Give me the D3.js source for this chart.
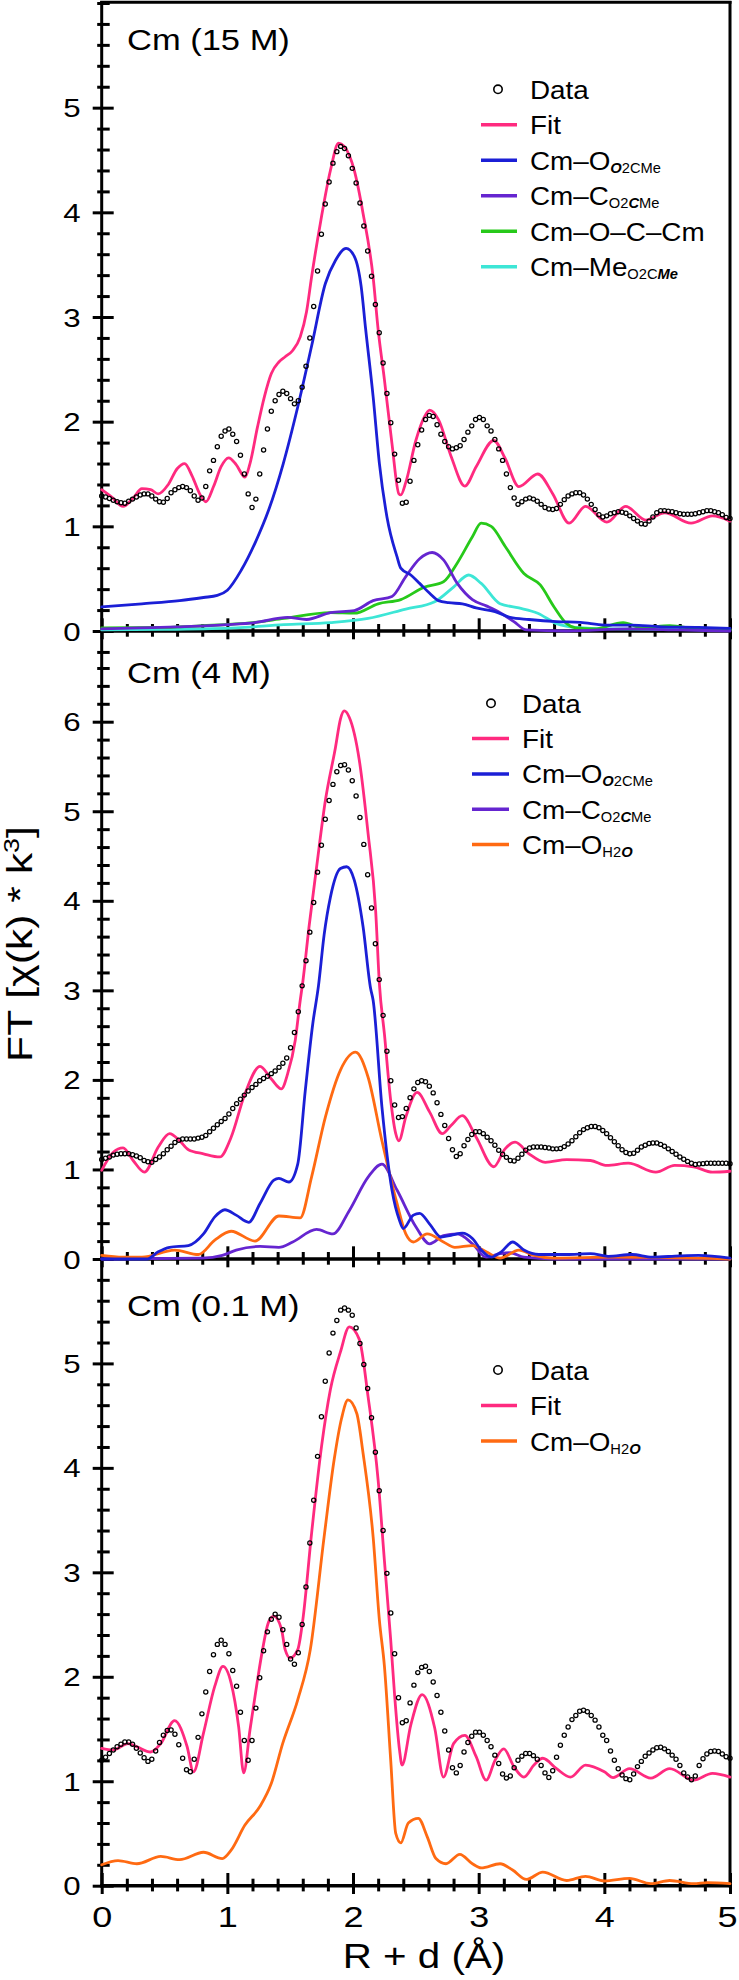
<!DOCTYPE html>
<html><head><meta charset="utf-8">
<script src="https://cdn.jsdelivr.net/npm/d3@7"></script>
<style>
body{margin:0;background:#fff}
svg{display:block}
text{font-family:"Liberation Sans",Arial,Helvetica,sans-serif;fill:#000}
</style>
</head><body>
<svg id="c" width="739" height="1980"></svg>
<script>
// ---------------- data ----------------
const xTickLabels=[0,1,2,3,4,5];
const dataStep=5/163;   // R grid of the measured points (Å)

const data1=[1.29,1.28,1.265,1.25,1.235,1.225,1.22,1.24,1.26,1.28,
1.30,1.31,1.31,1.29,1.26,1.235,1.23,1.265,1.32,1.35,
1.37,1.38,1.37,1.34,1.29,1.25,1.27,1.38,1.53,1.63,
1.76,1.86,1.91,1.93,1.88,1.81,1.68,1.50,1.31,1.18,
1.26,1.50,1.73,1.93,2.10,2.20,2.26,2.29,2.27,2.22,
2.17,2.20,2.33,2.53,2.80,3.10,3.44,3.79,4.08,4.29,
4.47,4.58,4.63,4.61,4.54,4.42,4.28,4.09,3.87,3.63,
3.39,3.12,2.85,2.56,2.27,1.99,1.69,1.44,1.22,1.23,
1.43,1.63,1.78,1.92,2.02,2.06,2.05,1.97,1.88,1.81,
1.76,1.74,1.75,1.77,1.83,1.90,1.96,2.02,2.04,2.02,
1.96,1.91,1.83,1.74,1.63,1.50,1.37,1.27,1.21,1.235,
1.26,1.27,1.26,1.24,1.21,1.18,1.165,1.16,1.17,1.21,
1.255,1.29,1.31,1.32,1.32,1.30,1.26,1.21,1.16,1.11,
1.09,1.10,1.12,1.13,1.14,1.135,1.125,1.10,1.075,1.05,
1.025,1.02,1.05,1.09,1.13,1.15,1.15,1.145,1.14,1.13,
1.12,1.115,1.115,1.115,1.12,1.13,1.14,1.15,1.15,1.14,
1.13,1.11,1.085,1.075];

const fit1R=[0,0.08,0.17,0.25,0.32,0.39,0.45,0.53,0.60,0.66,0.72,0.78,0.83,0.89,0.95,1.01,1.07,1.14,1.18,1.24,1.295,1.35,1.41,1.46,1.52,1.58,1.63,1.67,1.745,1.82,1.885,1.93,2.01,2.08,2.16,2.20,2.25,2.31,2.365,2.38,2.42,2.50,2.57,2.61,2.68,2.78,2.89,2.98,3.12,3.21,3.32,3.47,3.59,3.72,3.85,4.02,4.17,4.33,4.48,4.69,4.86,5.0];
const fit1V=[1.35,1.28,1.19,1.27,1.36,1.35,1.31,1.40,1.55,1.60,1.48,1.31,1.235,1.38,1.57,1.655,1.59,1.47,1.60,1.95,2.24,2.46,2.57,2.62,2.68,2.81,3.05,3.38,3.93,4.40,4.66,4.63,4.40,3.99,3.38,2.88,2.40,1.79,1.31,1.30,1.42,1.82,2.05,2.11,2.02,1.67,1.385,1.57,1.82,1.65,1.38,1.50,1.31,1.03,1.19,1.04,1.19,1.06,1.13,1.03,1.10,1.05];
const blue1R=[0,0.32,0.62,0.81,0.92,1.0,1.11,1.22,1.33,1.445,1.56,1.67,1.78,1.86,1.945,2.01,2.065,2.10,2.16,2.21,2.27,2.35,2.38,2.46,2.53,2.61,2.68,2.76,2.87,2.98,3.13,3.25,3.40,3.62,3.81,4.0,4.22,4.45,4.75,5.0];
const blue1V=[0.23,0.26,0.29,0.32,0.34,0.39,0.58,0.84,1.16,1.60,2.14,2.72,3.32,3.54,3.655,3.58,3.29,2.89,2.24,1.60,1.09,0.71,0.60,0.535,0.455,0.36,0.29,0.27,0.26,0.22,0.185,0.13,0.11,0.09,0.083,0.057,0.057,0.04,0.035,0.025];
const purple1R=[0,0.3,0.6,1.0,1.22,1.48,1.63,1.82,2.01,2.16,2.31,2.42,2.53,2.63,2.72,2.83,2.95,3.06,3.17,3.28,3.38,3.7,4.2,4.6,5.0];
const purple1V=[0.02,0.03,0.04,0.06,0.08,0.13,0.11,0.175,0.195,0.29,0.33,0.52,0.69,0.75,0.68,0.455,0.30,0.24,0.175,0.09,0.01,0.0,0.02,0.01,0.0];
const green1R=[0,0.5,0.8,1.2,1.45,1.82,2.01,2.2,2.38,2.57,2.72,2.83,2.95,3.02,3.10,3.21,3.36,3.49,3.60,3.70,3.77,3.92,4.15,4.30,4.52,4.75,5.0];
const green1V=[0.03,0.035,0.05,0.08,0.12,0.175,0.17,0.26,0.30,0.42,0.47,0.65,0.90,1.03,1.00,0.81,0.55,0.44,0.23,0.07,0.03,0.02,0.08,0.03,0.05,0.02,0.015];
const cyan1R=[0,0.5,1.07,1.45,1.82,2.12,2.42,2.65,2.80,2.92,3.02,3.17,3.32,3.47,3.62,3.77,4.07,5.0];
const cyan1V=[0.01,0.015,0.03,0.06,0.08,0.12,0.21,0.28,0.42,0.535,0.455,0.26,0.22,0.17,0.07,0.035,0.02,0.01];

const data2=[1.11,1.125,1.14,1.16,1.17,1.175,1.175,1.175,1.165,1.15,
1.13,1.10,1.085,1.08,1.11,1.14,1.175,1.22,1.26,1.30,
1.325,1.34,1.34,1.34,1.34,1.35,1.36,1.38,1.42,1.46,
1.50,1.535,1.57,1.62,1.68,1.735,1.785,1.83,1.875,1.915,
1.95,1.99,2.015,2.04,2.07,2.10,2.14,2.185,2.245,2.36,
2.53,2.76,3.05,3.33,3.65,3.98,4.32,4.62,4.91,5.12,
5.30,5.44,5.51,5.52,5.46,5.34,5.17,4.93,4.63,4.29,
3.92,3.52,3.12,2.72,2.32,1.99,1.72,1.58,1.59,1.68,
1.80,1.90,1.97,1.99,1.98,1.93,1.855,1.745,1.615,1.49,
1.345,1.22,1.145,1.175,1.265,1.335,1.39,1.42,1.42,1.40,
1.36,1.32,1.27,1.215,1.17,1.135,1.10,1.095,1.125,1.17,
1.215,1.24,1.25,1.25,1.25,1.245,1.24,1.23,1.23,1.235,
1.255,1.285,1.32,1.365,1.41,1.445,1.465,1.48,1.48,1.465,
1.435,1.40,1.355,1.31,1.265,1.22,1.19,1.175,1.18,1.215,
1.25,1.27,1.29,1.295,1.295,1.28,1.26,1.23,1.20,1.17,
1.14,1.115,1.09,1.07,1.055,1.06,1.065,1.07,1.07,1.07,
1.07,1.07,1.07,1.065];

const fit2R=[0,0.09,0.17,0.25,0.34,0.45,0.54,0.62,0.69,0.81,0.94,1.03,1.14,1.26,1.35,1.43,1.48,1.54,1.58,1.60,1.65,1.71,1.78,1.86,1.90,1.93,1.97,2.05,2.12,2.18,2.21,2.25,2.30,2.34,2.365,2.42,2.51,2.61,2.71,2.78,2.87,2.98,3.12,3.21,3.29,3.40,3.53,3.70,3.89,4.02,4.19,4.41,4.56,4.71,4.86,5.0];
const fit2V=[0.99,1.19,1.24,1.10,0.97,1.25,1.40,1.32,1.22,1.175,1.14,1.36,1.845,2.15,2.01,1.90,2.07,2.44,2.89,3.09,3.71,4.375,5.12,5.71,6.03,6.12,6.05,5.57,4.75,3.89,3.07,2.51,1.77,1.40,1.32,1.585,1.86,1.64,1.40,1.49,1.60,1.36,1.03,1.23,1.305,1.175,1.08,1.11,1.10,1.045,1.07,0.97,1.045,1.03,0.97,0.98];
const blue2R=[0,0.36,0.45,0.54,0.69,0.81,0.90,0.98,1.07,1.17,1.26,1.37,1.41,1.49,1.56,1.62,1.68,1.725,1.77,1.82,1.90,1.95,2.01,2.08,2.14,2.16,2.23,2.31,2.37,2.40,2.48,2.53,2.61,2.70,2.78,2.87,2.95,3.02,3.10,3.18,3.27,3.36,3.48,3.70,3.89,4.03,4.22,4.38,4.6,4.75,5.0];
const blue2V=[0,0,0.08,0.13,0.15,0.28,0.47,0.55,0.49,0.41,0.62,0.88,0.90,0.86,1.06,1.88,2.63,3.05,3.62,4.04,4.36,4.38,4.23,3.71,3.02,2.89,1.70,0.77,0.43,0.34,0.49,0.51,0.39,0.245,0.265,0.29,0.23,0.10,0.02,0.08,0.19,0.10,0.05,0.05,0.06,0.03,0.05,0.02,0.035,0.04,0.01];
const purple2R=[0,0.8,0.96,1.07,1.26,1.41,1.52,1.71,1.84,1.97,2.12,2.23,2.35,2.50,2.61,2.72,2.83,2.95,3.06,3.17,3.25,3.36,3.6,5.0];
const purple2V=[0,0.01,0.04,0.10,0.14,0.13,0.19,0.33,0.28,0.54,0.915,1.06,0.77,0.36,0.17,0.26,0.28,0.17,0.02,0.06,0.07,0.02,0.0,0.0];
const orange2R=[0,0.17,0.32,0.58,0.77,0.90,1.03,1.22,1.41,1.58,1.67,1.78,1.90,2.02,2.12,2.23,2.35,2.42,2.48,2.59,2.72,2.81,2.95,3.06,3.17,3.32,3.44,3.6,4.07,5.0];
const orange2V=[0.04,0.02,0.02,0.10,0.05,0.21,0.31,0.20,0.48,0.46,0.915,1.585,2.11,2.31,2.03,1.32,0.62,0.28,0.19,0.28,0.19,0.13,0.15,0.08,0.01,0.10,0.04,0.01,0.02,0.0];

const data3=[1.20,1.23,1.265,1.30,1.33,1.355,1.375,1.375,1.355,1.315,
1.27,1.225,1.19,1.21,1.29,1.37,1.44,1.485,1.49,1.45,
1.35,1.22,1.11,1.09,1.21,1.42,1.645,1.855,2.05,2.21,
2.31,2.35,2.31,2.22,2.06,1.91,1.66,1.39,1.20,1.39,
1.70,1.99,2.25,2.43,2.55,2.60,2.57,2.45,2.31,2.17,
2.12,2.23,2.50,2.86,3.28,3.69,4.11,4.49,4.83,5.10,
5.29,5.41,5.51,5.53,5.51,5.46,5.34,5.19,4.99,4.76,
4.48,4.15,3.78,3.40,2.99,2.61,2.22,1.80,1.56,1.58,
1.75,1.92,2.04,2.09,2.10,2.05,1.95,1.82,1.66,1.48,
1.30,1.13,1.08,1.15,1.28,1.37,1.43,1.47,1.47,1.44,
1.39,1.33,1.25,1.17,1.07,1.03,1.05,1.13,1.20,1.24,
1.265,1.265,1.245,1.21,1.15,1.08,1.035,1.10,1.23,1.345,
1.44,1.52,1.59,1.63,1.67,1.68,1.665,1.63,1.585,1.52,
1.44,1.39,1.29,1.20,1.12,1.06,1.025,1.015,1.07,1.14,
1.19,1.24,1.27,1.30,1.32,1.325,1.31,1.285,1.25,1.21,
1.15,1.08,1.04,1.015,1.05,1.15,1.215,1.26,1.285,1.29,
1.285,1.26,1.235,1.22];

const fit3R=[0,0.09,0.21,0.28,0.39,0.47,0.58,0.68,0.73,0.81,0.90,0.965,1.03,1.09,1.13,1.18,1.24,1.28,1.33,1.37,1.43,1.46,1.50,1.56,1.60,1.67,1.75,1.82,1.90,1.97,2.05,2.12,2.20,2.25,2.30,2.33,2.37,2.39,2.46,2.55,2.65,2.72,2.80,2.89,2.98,3.06,3.13,3.20,3.28,3.36,3.44,3.51,3.62,3.73,3.85,4.0,4.07,4.2,4.37,4.52,4.71,4.86,5.0];
const fit3V=[1.315,1.30,1.36,1.33,1.28,1.36,1.58,1.33,1.09,1.46,1.91,2.10,1.94,1.52,1.08,1.49,1.97,2.26,2.53,2.58,2.46,2.26,2.18,2.26,2.54,3.37,4.21,4.75,5.11,5.35,5.23,4.68,3.88,3.11,2.35,1.84,1.30,1.155,1.54,1.83,1.51,1.04,1.36,1.44,1.235,1.01,1.20,1.31,1.14,1.04,1.155,1.22,1.12,1.04,1.155,1.09,1.035,1.12,1.03,1.12,1.01,1.075,1.04];
const orange3R=[0,0.13,0.28,0.47,0.62,0.81,0.96,1.03,1.14,1.26,1.35,1.44,1.56,1.66,1.77,1.85,1.91,1.96,2.03,2.08,2.16,2.21,2.25,2.30,2.34,2.38,2.44,2.52,2.59,2.66,2.74,2.85,2.95,3.02,3.17,3.27,3.38,3.51,3.70,3.85,4.0,4.2,4.37,4.52,4.71,4.82,5.0];
const orange3V=[0.20,0.24,0.21,0.28,0.25,0.32,0.26,0.34,0.58,0.76,0.98,1.36,1.78,2.26,3.34,4.08,4.48,4.65,4.52,4.14,3.34,2.54,2.1,1.20,0.50,0.41,0.60,0.645,0.47,0.26,0.21,0.30,0.21,0.17,0.21,0.15,0.06,0.13,0.05,0.09,0.045,0.07,0.02,0.05,0.02,0.03,0.02];

// ---------------- styles ----------------
const PINK="#ff2a7f",BLUE="#1b1fd6",PURPLE="#6525d0",GREEN="#27c91a",CYAN="#3de6d6",ORANGE="#ff6a12";
const FONT='"Liberation Sans",Arial,Helvetica,sans-serif';

const svg=d3.select("#c");
const X0=101.7,X1=730;
const x=d3.scaleLinear().domain([0,5]).range([X0,X1]);

const lgO2CMe_O=[{t:"Cm–O"},{t:"O",s:1,bi:1},{t:"2CMe",s:1}];
const lgO2CMe_C=[{t:"Cm–C"},{t:"O2",s:1},{t:"C",s:1,bi:1},{t:"Me",s:1}];
const lgOCCm=[{t:"Cm–O–C–Cm"}];
const lgMe=[{t:"Cm–Me"},{t:"O2C",s:1},{t:"Me",s:1,bi:1}];
const lgH2O=[{t:"Cm–O"},{t:"H2",s:1},{t:"O",s:1,bi:1}];

const panels=[
 {title:"Cm (15 M)",titleY:50,y0:631,ytop:3,vtop:6,kMin:-1,kMax:30,majors:[0,1,2,3,4,5],data:data1,
  curves:[[cyan1R,cyan1V,CYAN],[green1R,green1V,GREEN],[purple1R,purple1V,PURPLE],[blue1R,blue1V,BLUE],[fit1R,fit1V,PINK]],
  legend:{mx:498,lx1:481,lx2:517,tx:530,y:89.3,dy:35.5,items:[null,[PINK,[{t:"Fit"}]],[BLUE,lgO2CMe_O],[PURPLE,lgO2CMe_C],[GREEN,lgOCCm],[CYAN,lgMe]]},xlabels:false},
 {title:"Cm (4 M)",titleY:683,y0:1259,ytop:721.7,vtop:6,kMin:0,kMax:33,majors:[0,1,2,3,4,5,6],data:data2,
  curves:[[purple2R,purple2V,PURPLE],[orange2R,orange2V,ORANGE],[blue2R,blue2V,BLUE],[fit2R,fit2V,PINK]],
  legend:{mx:491,lx1:472,lx2:509,tx:522,y:703.3,dy:35.3,items:[null,[PINK,[{t:"Fit"}]],[BLUE,lgO2CMe_O],[PURPLE,lgO2CMe_C],[ORANGE,lgH2O]]},xlabels:false},
 {title:"Cm (0.1 M)",titleY:1316,y0:1885.7,ytop:1363.4,vtop:5,kMin:0,kMax:29,majors:[0,1,2,3,4,5],data:data3,
  curves:[[orange3R,orange3V,ORANGE],[fit3R,fit3V,PINK]],
  legend:{mx:498,lx1:481,lx2:517,tx:530,y:1370,dy:35.5,items:[null,[PINK,[{t:"Fit"}]],[ORANGE,lgH2O]]},xlabels:true}
];

// frame
svg.append("line").attr("x1",X0).attr("x2",X0).attr("y1",1).attr("y2",1887.3).attr("stroke","#000").attr("stroke-width",3);
svg.append("line").attr("x1",X1).attr("x2",X1).attr("y1",1).attr("y2",1887.3).attr("stroke","#000").attr("stroke-width",3);
svg.append("line").attr("x1",X0-1.5).attr("x2",X1+1.5).attr("y1",2.2).attr("y2",2.2).attr("stroke","#000").attr("stroke-width",3);

panels.forEach(p=>{
  const y=d3.scaleLinear().domain([0,p.vtop]).range([p.y0,p.ytop]);

  // y ticks
  const minorVals=d3.range(p.kMin,p.kMax+1).filter(k=>!(k%5===0&&p.majors.includes(k/5))).map(k=>k/5);
  const gMin=svg.append("g").attr("transform",`translate(${X0},0)`)
     .call(d3.axisLeft(y).tickValues(minorVals).tickSize(4.5).tickFormat(""));
  gMin.select(".domain").remove();
  gMin.selectAll(".tick line").attr("x1",8).attr("stroke-width",3);
  const gMaj=svg.append("g").attr("transform",`translate(${X0},0)`)
     .call(d3.axisLeft(y).tickValues(p.majors).tickSize(9).tickPadding(13).tickFormat(d3.format("d")));
  gMaj.select(".domain").remove();
  gMaj.attr("font-size",25).attr("font-family",FONT);
  gMaj.selectAll(".tick line").attr("x1",12).attr("stroke-width",3);
  gMaj.selectAll(".tick text").attr("x",0).attr("dy","0.36em").attr("transform","translate(-21,0) scale(1.25,1)");

  // x axis
  svg.append("line").attr("x1",X0-1.5).attr("x2",X1+1.5).attr("y1",p.y0).attr("y2",p.y0).attr("stroke","#000").attr("stroke-width",3.5);
  const xMinor=d3.range(0,26).filter(k=>k%5).map(k=>k/5);
  const gxm=svg.append("g").attr("transform",`translate(0,${p.y0})`)
     .call(d3.axisBottom(x).tickValues(xMinor).tickSize(5.7).tickFormat(""));
  gxm.select(".domain").remove();
  gxm.selectAll(".tick line").attr("y1",-7).attr("stroke-width",3);
  const gxM=svg.append("g").attr("transform",`translate(0,${p.y0})`)
     .call(d3.axisBottom(x).tickValues(xTickLabels).tickSize(8.3).tickFormat(p.xlabels?d3.format("d"):""));
  gxM.select(".domain").remove();
  gxM.attr("font-size",30).attr("font-family",FONT);
  gxM.selectAll(".tick line").attr("y1",-12.7).attr("stroke-width",3);
  gxM.selectAll(".tick text").attr("y",0).attr("dy",0)
     .attr("transform",d=>`translate(${d===5?-3:0},41) scale(1.2,1)`);

  // curves
  const line=d3.line().x(d=>x(d[0])).y(d=>y(d[1])).curve(d3.curveMonotoneX);
  p.curves.forEach(([R,V,c])=>{
    svg.append("path").datum(d3.zip(R,V)).attr("d",line)
      .attr("fill","none").attr("stroke",c).attr("stroke-width",2.8)
      .attr("stroke-linejoin","round").attr("stroke-linecap","round");
  });

  // data points
  svg.append("g").selectAll("circle").data(p.data).join("circle")
    .attr("cx",(d,i)=>x(i*dataStep)).attr("cy",d=>y(d)).attr("r",2.1)
    .attr("fill","none").attr("stroke","#000").attr("stroke-width",1.25);

  // title
  svg.append("text").attr("transform",`translate(127,${p.titleY}) scale(1.15,1)`)
    .attr("font-size",30).text(p.title);

  // legend
  const L=p.legend;
  L.items.forEach((it,i)=>{
    const ry=L.y+i*L.dy;
    let parts;
    if(it===null){
      svg.append("circle").attr("cx",L.mx).attr("cy",ry).attr("r",4.2)
        .attr("fill","none").attr("stroke","#000").attr("stroke-width",1.6);
      parts=[{t:"Data"}];
    } else {
      svg.append("line").attr("x1",L.lx1).attr("x2",L.lx2).attr("y1",ry).attr("y2",ry)
        .attr("stroke",it[0]).attr("stroke-width",3.5);
      parts=it[1];
    }
    const t=svg.append("text").attr("transform",`translate(${L.tx},${ry+9.5}) scale(1.05,1)`).attr("font-size",26.5);
    let inSub=false;
    parts.forEach(pt=>{
      const ts=t.append("tspan").text(pt.t);
      if(pt.s){
        ts.attr("font-size",14);
        if(!inSub){ts.attr("dy",3);inSub=true;}
      }
      if(pt.bi) ts.attr("font-weight","bold").attr("font-style","italic");
    });
  });
});

// axis titles
svg.append("text").attr("transform","translate(424,1968) scale(1.12,1)")
  .attr("text-anchor","middle").attr("font-size",36).text("R + d (Å)");
const yt=svg.append("text").attr("transform","translate(32,944) rotate(-90) scale(1.22,1)")
  .attr("text-anchor","middle").attr("font-size",35);
yt.append("tspan").text("FT [χ(k) * k");
yt.append("tspan").attr("font-size",22).attr("dy",-13).text("3");
yt.append("tspan").attr("dy",13).text("]");
</script>
</body></html>
